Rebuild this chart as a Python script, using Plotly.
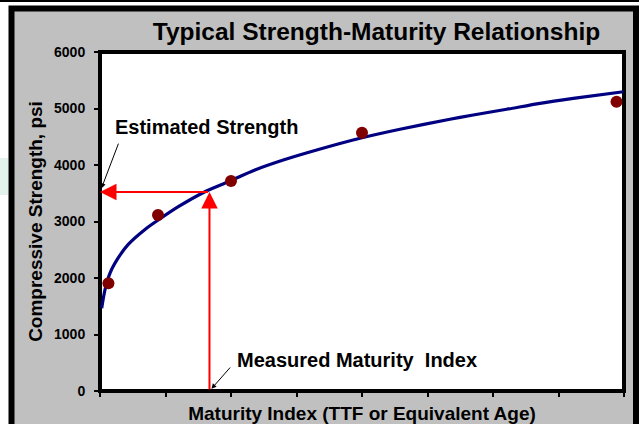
import plotly.graph_objects as go

# ---- data ----
curve_x = [0.18, 0.53, 1.07, 1.96, 3.02, 4.81, 6.23, 8.37, 11.22, 13.71, 16.56,
           19.59, 23.16, 27.79, 32.06, 37.40, 39.89, 43.46, 47.02, 50.58, 55.93]
curve_y = [1464, 1788, 2088, 2360, 2595, 2860, 3027, 3262, 3527, 3704, 3912,
           4088, 4265, 4473, 4632, 4809, 4885, 4986, 5092, 5180, 5297]
point_x = [0.9, 6.2, 14.0, 28.0, 55.2]
point_y = [1906, 3115, 3717, 4572, 5120]
measured_index = 11.7
estimated_strength = 3520
x_range = [0, 56]
y_range = [0, 6000]

# ---- layout geometry (pixels) ----
W, H = 639, 424
L, R, T, B = 100, 15, 52, 33
PW, PH = W - L - R, H - T - B


def px(xp):
    return (xp - L) / PW


def py(yp):
    return (H - B - yp) / PH


FONT = "Arial, Liberation Sans, sans-serif"

fig = go.Figure()
fig.add_trace(go.Scatter(x=curve_x, y=curve_y, mode="lines",
                         line=dict(color="#000080", width=3.2, shape="spline", smoothing=0.8),
                         hoverinfo="skip", showlegend=False))
fig.add_trace(go.Scatter(x=point_x, y=point_y, mode="markers",
                         marker=dict(color="#800000", size=12),
                         showlegend=False, cliponaxis=False))

shapes = [
    # faint watermark tint at far left
    dict(type="rect", xref="paper", yref="paper", x0=px(0), x1=px(8), y0=py(195), y1=py(158),
         fillcolor="#e4f2ec", line=dict(width=0), layer="below"),
    # top thin black line
    dict(type="line", xref="paper", yref="paper", x0=px(0), x1=px(W), y0=py(1), y1=py(1),
         line=dict(color="black", width=2), layer="below"),
    # grey panel
    dict(type="rect", xref="paper", yref="paper", x0=px(11.5), x1=px(636), y0=py(450), y1=py(8.5),
         fillcolor="#c0c0c0", line=dict(color="black", width=6), layer="below"),
    # plot area with frame
    dict(type="rect", xref="paper", yref="paper", x0=0, x1=1, y0=0, y1=1,
         fillcolor="white", line=dict(color="black", width=4), layer="below"),
]

annotations = [
    # red vertical arrow (measured maturity index -> curve)
    dict(x=measured_index, y=estimated_strength, ax=measured_index, ay=0,
         xref="x", yref="y", axref="x", ayref="y", text="", showarrow=True,
         arrowhead=2, arrowsize=1.65, arrowwidth=2, arrowcolor="#ff0000"),
    # red horizontal arrow (curve -> strength axis)
    dict(x=x_range[0], y=estimated_strength, ax=measured_index, ay=estimated_strength,
         xref="x", yref="y", axref="x", ayref="y", text="", showarrow=True,
         arrowhead=2, arrowsize=1.65, arrowwidth=2, arrowcolor="#ff0000"),
    # black pointer arrows
    dict(x=x_range[0], y=estimated_strength, xref="x", yref="y", ax=19, ay=-50,
         text="", showarrow=True, arrowhead=2, arrowsize=1, arrowwidth=1,
         arrowcolor="black", standoff=4),
    dict(x=measured_index, y=0, xref="x", yref="y", ax=22, ay=-25,
         text="", showarrow=True, arrowhead=2, arrowsize=1, arrowwidth=1,
         arrowcolor="black", standoff=3),
    # labels
    dict(x=px(113), y=py(127), xref="paper", yref="paper", xanchor="left", yanchor="middle",
         text="Estimated Strength", showarrow=False,
         font=dict(family=FONT, size=20, color="black", weight="bold")),
    dict(x=px(235), y=py(360), xref="paper", yref="paper", xanchor="left", yanchor="middle",
         text="Measured Maturity  Index", showarrow=False,
         font=dict(family=FONT, size=20, color="black", weight="bold")),
]

fig.update_layout(
    width=W, height=H,
    margin=dict(l=L, r=R, t=T, b=B, pad=0, autoexpand=False),
    paper_bgcolor="white", plot_bgcolor="rgba(0,0,0,0)",
    font=dict(family=FONT, color="black"),
    title=dict(text="Typical Strength-Maturity Relationship",
               x=376.5 / W, xref="container", xanchor="center",
               y=1 - 31 / H, yref="container", yanchor="middle",
               font=dict(family=FONT, size=24.5, color="black", weight="bold")),
    shapes=shapes, annotations=annotations,
    showlegend=False,
)
fig.update_xaxes(range=x_range, dtick=7, tick0=0, showgrid=False, zeroline=False,
                 showline=False, ticks="outside", ticklen=5, tickwidth=1.5, tickcolor="black",
                 showticklabels=False, automargin=False,
                 title=dict(text="Maturity Index (TTF or Equivalent Age)", standoff=15,
                            font=dict(family=FONT, size=19, color="black", weight="bold")))
fig.update_yaxes(range=y_range, dtick=1000, tick0=0, showgrid=False, zeroline=False,
                 showline=False, ticks="outside", ticklen=5, tickwidth=1.5, tickcolor="black",
                 ticklabelstandoff=6, automargin=False,
                 tickfont=dict(family=FONT, size=14, color="black", weight="bold"),
                 title=dict(text="Compressive Strength, psi", standoff=6,
                            font=dict(family=FONT, size=19, color="black", weight="bold")))

fig.write_html("out.html", config={"displayModeBar": False},
               post_script="document.body.style.margin='0';document.body.style.padding='0';")
